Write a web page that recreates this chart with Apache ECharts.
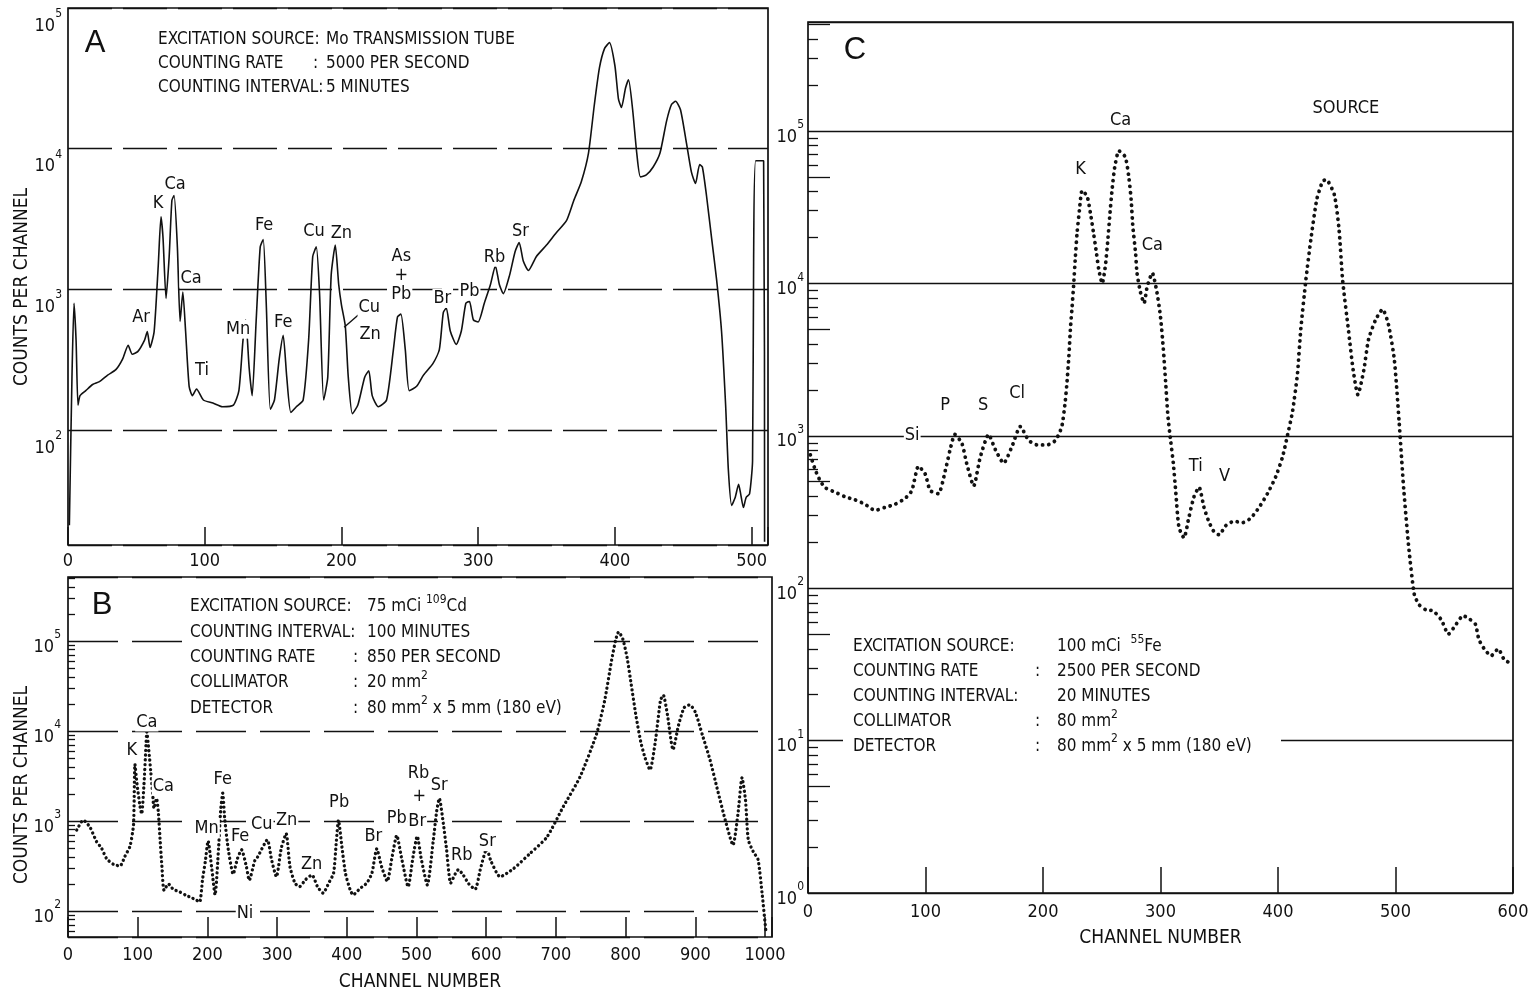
<!DOCTYPE html>
<html><head><meta charset="utf-8">
<script src="https://cdn.jsdelivr.net/npm/echarts@6/dist/echarts.min.js"></script>
<style>html,body{margin:0;padding:0;background:#fff}#c{width:1529px;height:993px}</style>
</head><body><div id="c"></div>
<script>
const FONT = '"Liberation Sans Narrow","DejaVu Sans Condensed","Roboto Condensed","Arial Narrow","Liberation Sans",sans-serif';
const INK = '#111111';

// ---------- Panel A : Mo transmission tube (solid trace) ----------
const channelA = [1,2.9,4.4,5.9,7.3,8.8,13,18,23,29,35,40,44,47,51,56,58,60,63,66,68,69.5,71.7,74,76,77.6,80,82,84,86,88.6,91,94,99,106,113,121,125,128,130,132.5,134.7,137.6,140.6,142.8,145,148,151,154.5,157.4,160,163,167,172,176,179,181.6,184,187,190,192.5,195.5,198,200,202.8,205,208,212,217,220,222.5,227,233,238,241,243.5,246.7,249.6,255,260,267,271.6,274.5,276.7,279.6,284,287.7,291,293.6,296.5,300,304.5,309,312.6,315.5,318.4,323,327,330,333,336.8,342.6,350,357,364.6,370,375.5,380.7,385,388.7,392.4,396,400,402.6,404.8,407.8,410,413,416,418.7,423,428,433,437.8,441.4,444.4,448,452.4,456,459,462,464,467,470.7,474.4,478,481,483,485.4,488,490.5,492,494,496,498.5,500.7,501.5,503,508.8,509.5];
const countsA = [21,237,795,435,150,175,190,210,220,245,268,320,400,345,360,435,500,385,500,1470,3270,2320,860,1710,4290,4640,2000,590,955,505,204,175,195,163,155,146,150,190,435,605,276,175,590,2000,2260,795,140,163,320,470,237,133,146,163,435,1710,2000,930,163,237,1260,2060,1080,775,550,237,130,150,237,263,175,146,163,372,635,665,372,190,204,245,297,372,683,735,505,405,505,795,820,605,585,795,1080,1470,1080,930,1260,1850,2150,1585,1360,1710,2060,2510,3070,4290,5840,9300,20600,37500,51400,56700,39000,22600,19600,27000,30900,18900,9300,6300,6500,7400,9300,15700,20600,21700,18900,10900,6800,5650,7700,7400,4640,2330,1170,505,150,52,29,33,41,35,28,33,35,60,1710,8200,8200,16];
const peakNamesA = ['Ar','K','Ca','Ca','Ti','Mn','Fe','Fe','Cu','Zn','Cu','Zn','As\n+\nPb','Br','Pb','Rb','Sr'];
const peakChA    = [53.4,65.9,78.3,90,98,124.5,143.5,157.4,180,200,220.4,221,243.8,273.8,293.6,311.9,331];
const peakCountA = [630,4100,5600,1200,263,520,2830,580,2600,2500,740,480,1260,860,970,1690,2600];
const leaderChA = [212.3,202], leaderCountA = [655,537];

// ---------- Panel B : 109Cd source (dotted trace) ----------
const channelB = [12.5,22,31.6,41,48,55.5,65,74.6,81.8,89,94,96,99,103,105.7,109,112,113,116,118.6,121.5,123.4,127,129.6,132,134.5,137.8,144,151,161,170,177,184,189,193,197,201,206,211,216,219,222,225,230,237,243,249,256,260,268,272,286,292,299,306,313,318.5,325.6,332,341,350,358,366,374,381,385,388,393,398,404.6,409,419,428.6,436,443,450,458,465,471.6,479,488,495,501,507,515.5,524,529,532.7,538.5,543,549,556,560,567,575,584,592,600.7,607,620,639,663,687,710.6,734.6,758,770,780,786,790,796,802,808,815,822,828,835,843,850,854,860,868,876,884,892,900,910,921,932,943,954,961,967,972,976,983,990,996,1001];
const countsB = [794,1023,851,589,501,380,331,316,407,525,912,4270,2570,1510,1200,2570,7240,9770,6030,3630,2000,1380,1780,1260,646,331,170,200,174,162,148,141,132,126,224,355,600,309,151,500,1300,2040,1020,479,257,380,479,309,219,363,398,617,372,240,500,724,309,204,186,224,251,186,158,204,263,600,1020,513,263,174,151,178,204,263,490,309,214,400,692,372,186,400,676,372,195,600,1300,1780,933,490,204,263,288,251,200,174,300,490,355,240,295,437,661,1445,3090,9120,21900,61700,105000,126000,105000,66000,33000,14500,7400,5000,3700,8000,21900,25100,15100,6200,11700,18200,19500,16200,9100,4800,2190,1020,540,1170,3020,1700,617,457,372,151,62];
const peakNamesB = ['K','Ca','Ca','Mn','Fe','Fe','Ni','Cu','Zn','Zn','Pb','Br','Pb','Br','Rb','+','Sr','Rb','Sr'];
const peakChB    = [91.4,113,136.8,199,222,246.8,254,278,313.7,349.6,389,438,471.6,501,503,504,532.7,565,601.6];
const peakCountB = [6150,12600,2450,830,2900,670,93,910,1020,330,1630,670,1070,980,3390,1860,2510,415,590];

// ---------- Panel C : 55Fe source (dotted trace) ----------
const channelC = [2,6,10,14.5,23,31.5,40,48.6,57,65.6,74,82.7,88.4,94,99.7,104,111,116.8,121,125,131,135,141,146.6,153.7,159.4,166.5,173.6,180.7,187.8,195,203.5,210.6,216,219,220.5,222,223.4,224.8,226,227.6,229,231,233.3,237.6,240.4,243,245.5,247.5,250.4,253,255,257,259,261,264.6,270,273,275,276.5,278.8,280,283,286,288.7,293,297,300,302.4,304.3,306.3,308.6,310.9,312.9,315.7,320,324,328.5,332.8,337,341,345.6,349.9,355.5,362.6,369.7,376.8,383.9,391,398,403.8,408,412.4,416.6,419.4,423.7,428,433,438,441,448,452,455,460,464,468,473,477,483,489,494,499,503,507,511.5,516,520,526,532,539,545,551.6,557.5,562.6,568,571,575.5,581.4,587.4,592.5,598.5];
const countsC = [750,603,513,457,427,398,380,355,324,339,355,389,437,631,562,437,417,589,813,1020,891,661,468,724,1020,813,661,851,1150,933,871,871,933,1150,1700,2290,3310,5130,7080,9550,15100,21400,30200,40700,37200,28800,21400,15800,12300,10000,12900,18600,28800,42700,57500,74100,67600,50100,35500,23400,15800,11700,8710,7410,9550,11700,8710,6030,3720,2290,1350,933,661,437,251,214,288,398,460,339,275,234,224,257,275,269,288,339,417,537,724,1000,1450,2570,5010,10500,19500,35500,46800,48000,38000,22400,10500,4900,2690,1860,2690,4270,5750,6760,5370,3160,1260,447,178,91,78,72,71,62,50,58,66,63,58,46,40,36,40,34,32];
const peakNamesC = ['Si','P','S','Cl','K','Ca','Ca','Ti','V','SOURCE'];
const peakChC    = [88.7,116.8,149,178,232,266,293,330,354.6,457.8];
const peakCountC = [1000,1590,1590,1900,55600,118000,17800,630,540,141000];

// ---------- texts ----------
const panelLetters = ['A','B','C'];
const infoA = [['EXCITATION SOURCE:','','Mo TRANSMISSION TUBE'],['COUNTING RATE',':','5000 PER SECOND'],['COUNTING INTERVAL:','','5 MINUTES']];
const infoB = [['EXCITATION SOURCE:','','75 mCi {sup|109}Cd'],['COUNTING INTERVAL:','','100 MINUTES'],['COUNTING RATE',':','850 PER SECOND'],['COLLIMATOR',':','20 mm{sup|2}'],['DETECTOR',':','80 mm{sup|2} x 5 mm (180 eV)']];
const infoC = [['EXCITATION SOURCE:','','100 mCi  {sup|55}Fe'],['COUNTING RATE',':','2500 PER SECOND'],['COUNTING INTERVAL:','','20 MINUTES'],['COLLIMATOR',':','80 mm{sup|2}'],['DETECTOR',':','80 mm{sup|2} x 5 mm (180 eV)']];
const yTitle = 'COUNTS PER CHANNEL', xTitle = 'CHANNEL NUMBER';
const minorMults = [2,3,4,6,7,8,9], midMults = [5];

const zip = (a,b) => a.map((x,i)=>[x,b[i]]);
const lab = (n,c,v) => n.map((t,i)=>[c[i],v[i],t]);

function decadeLabel(v){
  const e = Math.log10(v), r = Math.round(e);
  if (Math.abs(e-r) > 0.02) return '';
  return '{b|10}{s|' + r + '}';
}
const yRich = {
  b:{fontSize:18,lineHeight:36,fontFamily:FONT,color:INK},
  s:{fontSize:12,lineHeight:12,verticalAlign:'top',fontFamily:FONT,color:INK}
};
function tickVals(lo,hi,mults){
  const out=[];
  for(let e=-1;e<=6;e++) for(const m of mults){const v=m*Math.pow(10,e); if(v>lo*1.001&&v<hi*0.999) out.push(v);}
  return out;
}

const minA = Math.pow(10,1.181), maxA = 1e5;
const minB = Math.pow(10,1.711), maxB = Math.pow(10,5.711);
const minC = 1, maxC = Math.pow(10,5.715);

function xAx(grid,max,labMargin,tickLen,name){
  const o = {gridIndex:grid,type:'value',min:0,max:max,interval:100,
    axisLine:{show:false},
    axisTick:{inside:true,length:tickLen,lineStyle:{color:INK,width:1.5}},
    axisLabel:{margin:labMargin,fontSize:18,fontFamily:FONT,color:INK,formatter:v=>(v%100===0?String(v):'')},
    splitLine:{show:false}};
  if(name){o.name=name;o.nameLocation='middle';o.nameGap=36;o.nameTextStyle={fontSize:19,fontFamily:FONT,color:INK};}
  return o;
}
function yAx(grid,min,max,split,extraLabel){
  return {gridIndex:grid,type:'log',logBase:10,min:min,max:max,
    axisLine:{show:false},axisTick:{show:false},
    axisLabel:Object.assign({formatter:decadeLabel,rich:yRich,color:INK},extraLabel),
    splitLine:{show:true,lineStyle:split}};
}
function yMinor(grid,min,max,vals,len){
  return {gridIndex:grid,type:'log',logBase:10,min:min,max:max,position:'left',
    axisLine:{show:false},axisLabel:{show:false},splitLine:{show:false},
    axisTick:{show:true,inside:true,length:len,customValues:vals,lineStyle:{color:INK,width:1.3}}};
}

function labelSeries(xi,yi,data){
  return {type:'scatter',xAxisIndex:xi,yAxisIndex:yi,data:data,symbol:'circle',symbolSize:1,
    itemStyle:{color:'rgba(0,0,0,0)',opacity:1},silent:true,z:5,
    emphasis:{disabled:true},
    label:{show:true,position:'inside',formatter:p=>p.data[2],fontSize:18,lineHeight:19,fontFamily:FONT,color:INK,opacity:1,
      backgroundColor:'#fff',padding:[0,1]}};
}

function infoBlock(rows,x0,xc,xv,y0,dy){
  const els=[];
  rows.forEach((r,i)=>{
    const y=y0+i*dy;
    const base={fontSize:17,fontFamily:FONT,fill:INK,verticalAlign:'middle',textVerticalAlign:'middle',align:'left',textAlign:'left'};
    els.push({type:'text',x:x0,y:y,z:101,style:Object.assign({text:r[0]},base)});
    if(r[1]) els.push({type:'text',x:xc,y:y,z:101,style:Object.assign({text:r[1]},base)});
    els.push({type:'text',x:xv,y:y,z:101,style:Object.assign({text:r[2],lineHeight:26,
      rich:{sup:{fontSize:12,lineHeight:12,verticalAlign:'top',fontFamily:FONT,fill:INK,color:INK}}},base)});
  });
  return els;
}

const letterStyle = {fontSize:31,fontFamily:'"Liberation Sans",Arial,sans-serif',fill:INK,align:'center',textAlign:'center',verticalAlign:'middle',textVerticalAlign:'middle'};
const titleStyle = {fontSize:19,fontFamily:FONT,fill:INK,align:'center',textAlign:'center',verticalAlign:'middle',textVerticalAlign:'middle'};
const graphics = [
  {type:'text',x:95,y:43,z:101,style:Object.assign({text:panelLetters[0]},letterStyle)},
  {type:'text',x:102,y:605,z:101,style:Object.assign({text:panelLetters[1]},letterStyle)},
  {type:'text',x:855,y:50,z:101,style:Object.assign({text:panelLetters[2]},letterStyle)},
  {type:'rect',z:100,shape:{x:186,y:593,width:408,height:128},style:{fill:'#fff'}},
  {type:'rect',z:100,shape:{x:843,y:632,width:438,height:128},style:{fill:'#fff'}},
  {type:'text',x:22,y:287,rotation:Math.PI/2,z:101,style:Object.assign({text:yTitle},titleStyle)},
  {type:'text',x:22,y:785,rotation:Math.PI/2,z:101,style:Object.assign({text:yTitle},titleStyle)}
].concat(infoBlock(infoA,158,313,326,40,24))
 .concat(infoBlock(infoB,190,353,367,607,25.3))
 .concat(infoBlock(infoC,853,1035,1057,647,24.8));

const gridBase = {show:true,borderColor:INK,borderWidth:1.7,backgroundColor:'transparent',containLabel:false,outerBoundsMode:'none'};
const option = {
  animation:false,
  backgroundColor:'#fff',
  grid:[
    Object.assign({left:68,top:8,width:700,height:537},gridBase),
    Object.assign({left:68,top:577,width:704,height:360},gridBase),
    Object.assign({left:808,top:22,width:705,height:871},gridBase)
  ],
  xAxis:[ xAx(0,512,7,18,null), xAx(1,1010,9,20,xTitle), xAx(2,600,10,26,xTitle) ],
  yAxis:[
    yAx(0,minA,maxA,{color:INK,width:1.3,type:[44,11]},{margin:6,verticalAlign:'top'}),
    yAx(1,minB,maxB,{color:INK,width:1.3,type:[50,14]},{margin:7,padding:[12,0,0,0]}),
    yMinor(1,minB,maxB,tickVals(minB,maxB,minorMults.concat(midMults)),7),
    yAx(2,minC,maxC,{color:INK,width:1.4,type:'solid'},{margin:4,padding:[12,0,0,0]}),
    yMinor(2,minC,maxC,tickVals(minC,maxC,minorMults),10),
    yMinor(2,minC,maxC,tickVals(minC,maxC,midMults),22)
  ],
  series:[
    {type:'line',xAxisIndex:0,yAxisIndex:0,data:zip(channelA,countsA),symbol:'none',smooth:0.2,
      lineStyle:{color:INK,width:1.6},z:3},
    {type:'line',xAxisIndex:0,yAxisIndex:0,data:zip(leaderChA,leaderCountA),symbol:'none',
      lineStyle:{color:INK,width:1.4},z:3},
    {type:'line',xAxisIndex:1,yAxisIndex:1,data:zip(channelB,countsB),symbol:'none',smooth:0.2,
      lineStyle:{color:INK,width:3.3,type:[0.1,4.6],cap:'round'},z:3},
    {type:'line',xAxisIndex:2,yAxisIndex:3,data:zip(channelC,countsC),symbol:'none',smooth:0.2,
      lineStyle:{color:INK,width:3.8,type:[0.1,6.2],cap:'round'},z:3},
    labelSeries(0,0,lab(peakNamesA,peakChA,peakCountA)),
    labelSeries(1,1,lab(peakNamesB,peakChB,peakCountB)),
    labelSeries(2,3,lab(peakNamesC,peakChC,peakCountC))
  ],
  graphic:graphics
};
const chart = echarts.init(document.getElementById('c'));
chart.setOption(option);
</script>
</body></html>
